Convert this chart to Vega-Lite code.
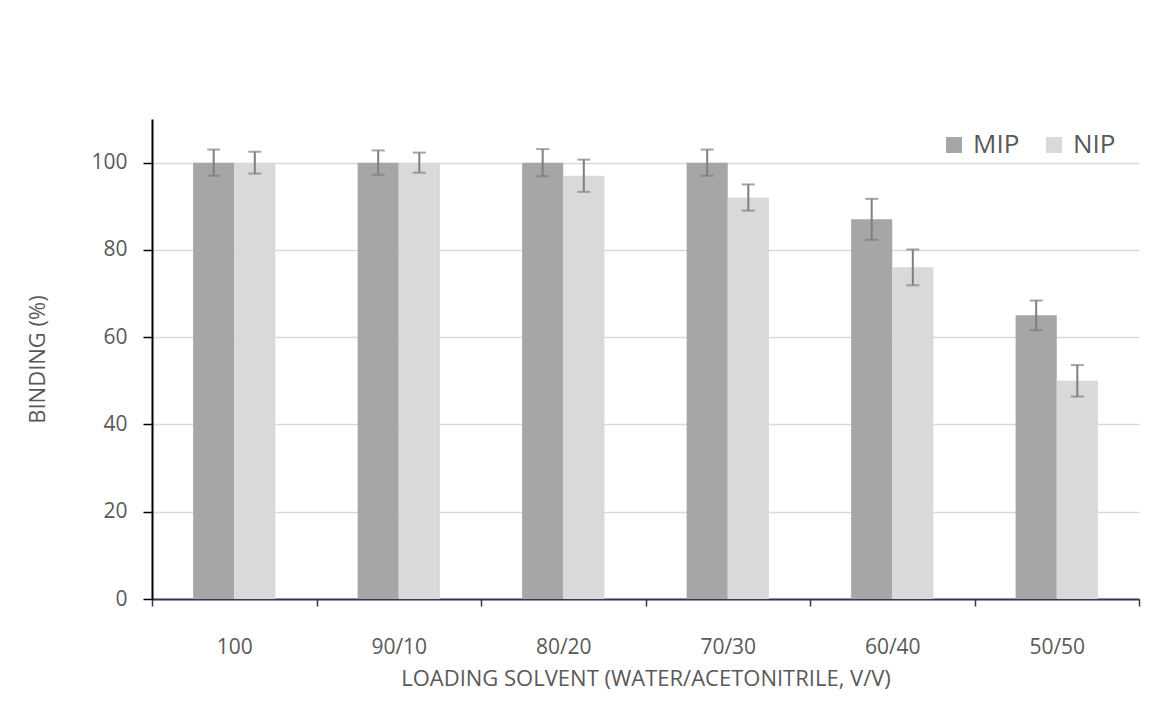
{
  "$schema": "https://vega.github.io/schema/vega-lite/v6.json",
  "autosize": {"type": "none"},
  "width": 987,
  "height": 480,
  "padding": {"left": 152, "top": 119, "right": 17, "bottom": 119},
  "background": "white",
  "config": {
    "font": "Open Sans",
    "view": {"stroke": null},
    "axis": {"labelColor": "#595959", "titleColor": "#595959", "labelFontSize": 21, "titleFontSize": 22, "titleFontWeight": "normal", "labelFont": "Open Sans", "titleFont": "Open Sans"}
  },
  "data": {
    "values": [
      {"solvent": "100", "polymer": "MIP", "binding": 100, "lo": 97.0, "hi": 103.0},
      {"solvent": "100", "polymer": "NIP", "binding": 100, "lo": 97.5, "hi": 102.5},
      {"solvent": "90/10", "polymer": "MIP", "binding": 100, "lo": 97.2, "hi": 102.8},
      {"solvent": "90/10", "polymer": "NIP", "binding": 100, "lo": 97.7, "hi": 102.3},
      {"solvent": "80/20", "polymer": "MIP", "binding": 100, "lo": 96.9, "hi": 103.1},
      {"solvent": "80/20", "polymer": "NIP", "binding": 97, "lo": 93.3, "hi": 100.7},
      {"solvent": "70/30", "polymer": "MIP", "binding": 100, "lo": 97.0, "hi": 103.0},
      {"solvent": "70/30", "polymer": "NIP", "binding": 92, "lo": 89.0, "hi": 95.0},
      {"solvent": "60/40", "polymer": "MIP", "binding": 87, "lo": 82.3, "hi": 91.7},
      {"solvent": "60/40", "polymer": "NIP", "binding": 76, "lo": 71.9, "hi": 80.1},
      {"solvent": "50/50", "polymer": "MIP", "binding": 65, "lo": 61.6, "hi": 68.4},
      {"solvent": "50/50", "polymer": "NIP", "binding": 50, "lo": 46.4, "hi": 53.6}
    ]
  },
  "encoding": {
    "x": {
      "field": "solvent",
      "type": "nominal",
      "sort": null,
      "scale": {"paddingInner": 0, "paddingOuter": 0},
      "title": "LOADING SOLVENT (WATER/ACETONITRILE, V/V)",
      "axis": {
        "labelAngle": 0,
        "tickBand": "extent",
        "domainColor": "#403152",
        "domainWidth": 2,
        "tickColor": "#403152",
        "tickWidth": 1.5,
        "tickSize": 7,
        "labelPadding": 30,
        "titlePadding": 11,
        "grid": false
      }
    },
    "xOffset": {"field": "polymer", "type": "nominal", "sort": ["MIP", "NIP"], "scale": {"paddingInner": 0, "paddingOuter": 1}}
  },
  "layer": [
    {
      "mark": {"type": "bar"},
      "encoding": {
        "y": {
          "field": "binding",
          "type": "quantitative",
          "scale": {"domain": [0, 110], "nice": false},
          "title": "BINDING (%)",
          "axis": {
            "values": [0, 20, 40, 60, 80, 100],
            "domainColor": "#000000",
            "domainWidth": 2,
            "tickColor": "#000000",
            "tickWidth": 1.5,
            "tickSize": 9,
            "labelPadding": 16,
            "titlePadding": 41,
            "gridColor": "#D9D9D9",
            "gridWidth": 1.5,
            "zindex": 0
          }
        },
        "color": {
          "field": "polymer",
          "type": "nominal",
          "scale": {"domain": ["MIP", "NIP"], "range": ["#A6A6A6", "#D9D9D9"]},
          "legend": {
            "title": null,
            "orient": "none",
            "direction": "horizontal",
            "legendX": 789,
            "legendY": 13,
            "symbolType": "square",
            "symbolSize": 256,
            "symbolStrokeWidth": 0,
            "symbolOpacity": 1,
            "labelFontSize": 26,
            "labelColor": "#595959",
            "labelFont": "Open Sans",
            "columnPadding": 21,
            "labelOffset": 6
          }
        }
      }
    },
    {
      "mark": {"type": "rule", "color": "#7F7F7F", "strokeWidth": 2},
      "encoding": {
        "y": {"field": "lo", "type": "quantitative"},
        "y2": {"field": "hi"}
      }
    },
    {
      "mark": {"type": "tick", "color": "#7F7F7F", "thickness": 2, "size": 13, "orient": "horizontal"},
      "encoding": {"y": {"field": "lo", "type": "quantitative"}}
    },
    {
      "mark": {"type": "tick", "color": "#7F7F7F", "thickness": 2, "size": 13, "orient": "horizontal"},
      "encoding": {"y": {"field": "hi", "type": "quantitative"}}
    }
  ]
}
